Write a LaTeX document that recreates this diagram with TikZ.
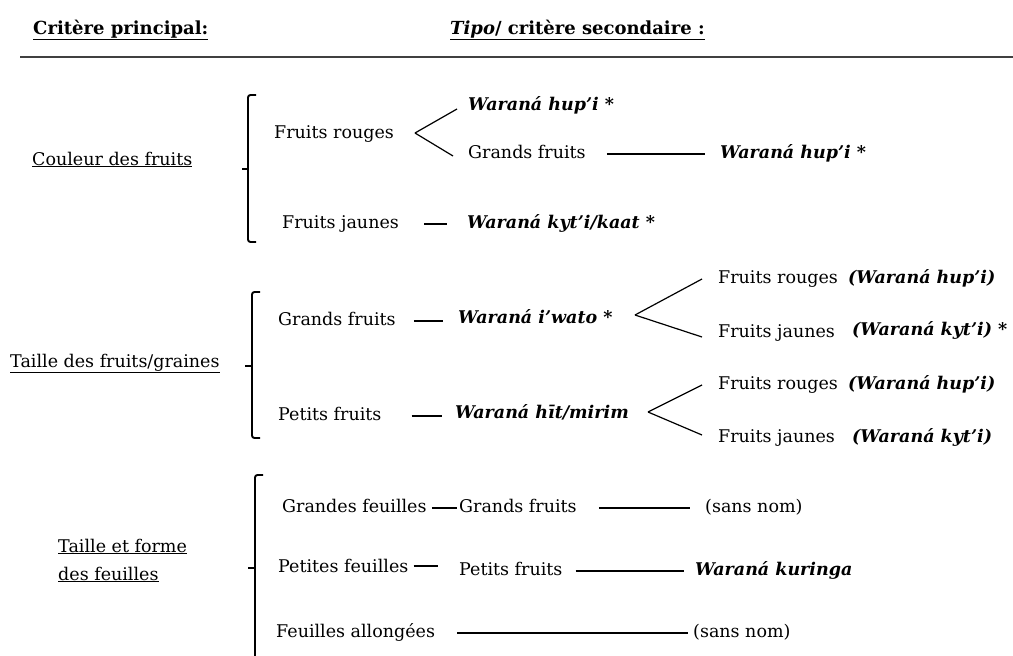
\documentclass[tikz,border=0pt]{standalone}
\usepackage{fontspec}
\setmainfont{DejaVu Serif}
\newcommand\fs{\fontsize{17.5}{20}\selectfont}
\newcommand\hs{\fontsize{18}{20}\selectfont}
\begin{document}
\begin{tikzpicture}[x=1pt,y=-1pt,
  t/.style={anchor=west,inner sep=0pt,text height=12pt,text depth=4pt,font=\fs},
  w/.style={t,font=\fs\bfseries\itshape},
  hd/.style={anchor=west,inner sep=0pt,font=\hs\bfseries},
  ln/.style={line width=1.2pt},
  brk/.style={line width=1.9pt,rounded corners=2.5pt}]
\useasboundingbox[fill=white] (0,0) rectangle (1013,656);

% header
\node[hd] (h1) at (33,30) {\underline{Critère principal:}};
\node[hd] (h2) at (450,30) {\underline{\textit{Tipo}/ critère secondaire :}};
\draw[line width=1.8pt,black!75] (20,57) -- (1013,57);

% ---------- section 1
\node[t] (c1) at (32,161) {\underline{Couleur des fruits}};
\draw[brk] (256,95) -- (248,95) -- (248,242) -- (256,242);
\draw[brk] (248,169) -- (242,169);
\node[t] (fr1) at (274,134) {Fruits rouges};
\coordinate (v1) at (415,133);
\node[w] (wh1) at (468,106) {Waraná hup’i *};
\node[t] (gf1) at (468,154) {Grands fruits};
\node[w] (wh2) at (720,154) {Waraná hup’i *};
\node[t] (fj1) at (282,224) {Fruits jaunes};
\node[w] (wk1) at (467,224) {Waraná kyt’i/kaat *};
\draw[ln] (v1) -- ([xshift=-11pt,yshift=-3pt]wh1.west);
\draw[ln] (v1) -- ([xshift=-15pt,yshift=-2pt]gf1.west);
\draw[ln,shorten <=21pt,shorten >=15pt] (gf1.east) -- (gf1.east -| wh2.west);
\draw[ln,shorten <=25pt,shorten >=20pt] (fj1.east) -- (fj1.east -| wk1.west);

% ---------- section 2
\node[t] (c2) at (10,363) {\underline{Taille des fruits/graines}};
\draw[brk] (260,292) -- (252,292) -- (252,438) -- (260,438);
\draw[brk] (252,366) -- (245,366);
\node[t] (gf2) at (278,321) {Grands fruits};
\node[w] (wi) at (458,319) {Waraná i’wato *};
\draw[ln,shorten <=18pt,shorten >=15pt] (gf2.east) -- (gf2.east -| wi.west);
\coordinate (v2) at (635,315);
\node[t] (fr2) at (718,279) {Fruits rouges};
\node[w] (p1) at (848,279) {(Waraná hup’i)};
\node[t] (fj2) at (718,333) {Fruits jaunes};
\node[w] (p2) at (852,331) {(Waraná kyt’i) *};
\draw[ln] (v2) -- ([xshift=-16pt]fr2.west);
\draw[ln] (v2) -- ([xshift=-16pt,yshift=-4pt]fj2.west);

\node[t] (pf2) at (278,416) {Petits fruits};
\node[w] (wm) at (455,414) {Waraná hīt/mirim};
\draw[ln,shorten <=30pt,shorten >=13pt] (pf2.east) -- (pf2.east -| wm.west);
\coordinate (v3) at (648,412);
\node[t] (fr3) at (718,385) {Fruits rouges};
\node[w] (p3) at (848,385) {(Waraná hup’i)};
\node[t] (fj3) at (718,438) {Fruits jaunes};
\node[w] (p4) at (852,438) {(Waraná kyt’i)};
\draw[ln] (v3) -- ([xshift=-16pt]fr3.west);
\draw[ln] (v3) -- ([xshift=-16pt,yshift=3pt]fj3.west);

% ---------- section 3
\node[t] (c3a) at (58,548) {\underline{Taille et forme}};
\node[t] (c3b) at (58,576) {\underline{des feuilles}};
\draw[brk] (263,475) -- (255,475) -- (255,662);
\draw[brk] (255,568) -- (248,568);
\node[t] (gfe) at (282,508) {Grandes feuilles};
\node[t] (gf3) at (459,508) {Grands fruits};
\node[t] (sn1) at (705,508) {(sans nom)};
\draw[ln,shorten <=5pt,shorten >=2pt] (gfe.east) -- (gfe.east -| gf3.west);
\draw[ln,shorten <=22pt,shorten >=15pt] (gf3.east) -- (gf3.east -| sn1.west);
\node[t] (pfe) at (278,568) {Petites feuilles};
\node[t] (pf3) at (459,571) {Petits fruits};
\node[w] (wku) at (695,571) {Waraná kuringa};
\draw[ln,shorten <=5pt,shorten >=21pt] ([yshift=2pt]pfe.east) -- ([yshift=2pt]pfe.east -| pf3.west);
\draw[ln,shorten <=13pt,shorten >=11pt] (pf3.east) -- (pf3.east -| wku.west);
\node[t] (fal) at (276,633) {Feuilles allongées};
\node[t] (sn2) at (693,633) {(sans nom)};
\draw[ln,shorten <=22pt,shorten >=5pt] (fal.east) -- (fal.east -| sn2.west);
\end{tikzpicture}
\end{document}
